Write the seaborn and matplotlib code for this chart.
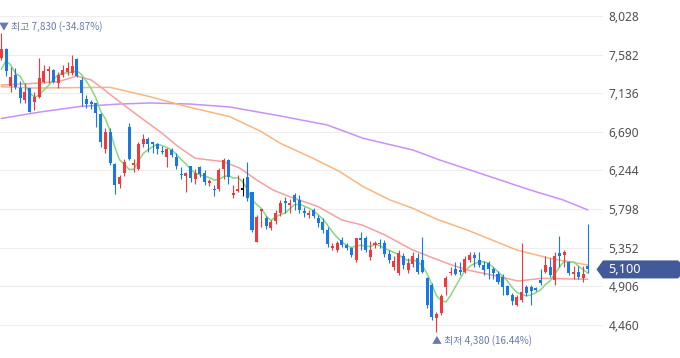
import numpy as np
import pandas as pd
import matplotlib
matplotlib.use("Agg")
import matplotlib.pyplot as plt
import matplotlib.patches as mpatches
from matplotlib.transforms import blended_transform_factory
import seaborn as sns

# ---------------- data ----------------
opens = [7543, 7647, 7223, 7346, 7200, 7057, 7193, 7038, 7096, 7262,
         7396, 7404, 7250, 7346, 7381, 7373, 7528, 7289, 7070, 7038,
         7026, 6900, 6488, 6691, 6318, 6087, 6210, 6742, 6310, 6257,
         6549, 6607, 6570, 6549, 6470, 6403, 6480, 6402, 6200, 6183,
         6290, 6145, 6280, 6210, 6102, 6025, 6026, 6260, 6365, 5960,
         6010, 6030, 6170, 5990, 5420, 5780, 5690, 5575, 5665, 5755,
         5890, 5850, 5960, 5900, 5770, 5730, 5787, 5690, 5650, 5555,
         5350, 5320, 5440, 5380, 5350, 5210, 5460, 5460, 5240, 5380,
         5410, 5400, 5280, 5125, 5060, 5250, 5090, 5160, 5230, 5210,
         4998, 4920, 4535, 4600, 4900, 5055, 5100, 5090, 5075, 5210,
         5265, 5210, 5155, 5170, 5100, 5050, 5010, 4910, 4805, 4690,
         4745, 4900, 4900, 4880, 4980, 5075, 5130, 4980, 5285, 5270,
         5190, 5050, 5070, 4998, 5140]
highs = [7830, 7660, 7439, 7431, 7277, 7254, 7200, 7153, 7543, 7462,
         7450, 7420, 7385, 7462, 7500, 7578, 7540, 7327, 7115, 7060,
         7026, 6910, 6730, 6730, 6330, 6190, 6375, 6789, 6375, 6572,
         6661, 6630, 6572, 6560, 6530, 6506, 6505, 6440, 6288, 6226,
         6300, 6260, 6300, 6245, 6150, 6070, 6270, 6385, 6380, 6075,
         6190, 6155, 6345, 5998, 5730, 5800, 5720, 5676, 5790, 5900,
         5933, 5910, 5980, 5960, 5825, 5790, 5810, 5730, 5690, 5590,
         5400, 5430, 5470, 5410, 5360, 5460, 5535, 5490, 5430, 5430,
         5450, 5440, 5320, 5250, 5320, 5290, 5230, 5300, 5290, 5480,
         5015, 4940, 4610, 4820, 5020, 5130, 5180, 5180, 5250, 5300,
         5300, 5300, 5200, 5200, 5130, 5080, 5050, 4920, 4830, 4800,
         5400, 4925, 4925, 4900, 5100, 5250, 5230, 5300, 5490, 5320,
         5200, 5140, 5140, 5140, 5630]
lows = [7520, 7335, 7150, 7185, 7023, 7026, 6915, 6942, 7080, 7254,
        7254, 7254, 7200, 7320, 7346, 7350, 7320, 6990, 6965, 6955,
        6750, 6518, 6442, 6306, 5971, 6040, 6175, 6365, 6229, 6245,
        6518, 6460, 6450, 6430, 6430, 6280, 6400, 6264, 6145, 5994,
        6110, 6085, 6170, 6070, 6060, 5950, 6010, 6140, 6090, 5922,
        6000, 5950, 5890, 5535, 5420, 5590, 5565, 5550, 5630, 5720,
        5755, 5750, 5787, 5750, 5710, 5690, 5690, 5590, 5520, 5360,
        5325, 5300, 5360, 5330, 5245, 5190, 5325, 5300, 5210, 5350,
        5350, 5240, 5170, 5095, 5040, 5100, 5060, 5130, 5050, 5055,
        4650, 4520, 4380, 4570, 4800, 5030, 5030, 5040, 5055, 5180,
        5130, 5130, 5040, 4995, 4990, 4930, 4810, 4800, 4690, 4680,
        4725, 4790, 4690, 4845, 4920, 5055, 5010, 4920, 5130, 5130,
        5040, 4990, 4990, 4950, 5060]
closes = [7647, 7396, 7327, 7211, 7077, 7153, 6922, 7096, 7308, 7393,
          7412, 7269, 7346, 7404, 7431, 7450, 7335, 7135, 7012, 7012,
          6903, 6576, 6691, 6326, 6075, 6164, 6337, 6376, 6330, 6549,
          6607, 6549, 6550, 6492, 6455, 6492, 6422, 6297, 6187, 6210,
          6160, 6210, 6200, 6107, 6125, 6015, 6250, 6365, 6170, 5980,
          6030, 6030, 5922, 5555, 5710, 5800, 5605, 5650, 5755, 5870,
          5865, 5870, 5883, 5787, 5750, 5750, 5720, 5640, 5550, 5390,
          5370, 5400, 5380, 5350, 5265, 5460, 5440, 5325, 5325, 5400,
          5390, 5280, 5210, 5200, 5290, 5150, 5170, 5250, 5075, 5075,
          4690, 4555, 4585, 4790, 5000, 5075, 5050, 5070, 5215, 5265,
          5230, 5150, 5090, 5100, 5060, 4960, 4900, 4805, 4730, 4780,
          4840, 4825, 4845, 4865, 4940, 5150, 5035, 5250, 5255, 5300,
          5060, 5070, 5010, 5045, 5100]

# 5-day average: first values (history before the window)
ma5_head = [7412, 7512, 7462, 7366]

ma20_day = [0, 7, 12, 16, 19, 21, 24.5, 29.3, 34, 37.4, 41, 47, 50.5, 54, 57.4,
            61, 67, 72, 76.3, 81.1, 84.3, 87, 90.6, 94.2, 98.5, 105.4, 109.2,
            114.3, 124]
ma20_val = [7231, 7250, 7269, 7335, 7289, 7208, 7058, 6861, 6673, 6518, 6384,
            6345, 6268, 6133, 6018, 5940, 5825, 5671, 5613, 5498, 5402, 5324,
            5247, 5171, 5093, 5016, 4966, 4997, 4986]

ma60_day = [0, 7, 23, 31.4, 39.3, 48.3, 54.7, 59, 65.9, 71.6, 76.5, 82.2,
            87, 92.1, 98.5, 109, 116, 124]
ma60_val = [7211, 7196, 7204, 7096, 6980, 6865, 6700, 6557, 6384, 6229,
            6056, 5902, 5806, 5679, 5555, 5324, 5228, 5151]

ma120_day = [0, 8.2, 16.6, 25, 31.4, 39.9, 48.3, 59, 68.9, 76.5, 87, 92.7,
             101.2, 111.8, 118.8, 124]
ma120_val = [6844, 6919, 6982, 7011, 7023, 7011, 6977, 6873, 6769, 6615, 6480,
             6364, 6211, 6018, 5902, 5787]

yticks = [4460, 4906, 5352, 5798, 6244, 6690, 7136, 7582, 8028]
high_label = "▼ 최고 7,830 (-34.87%)"
low_label = "▲ 최저 4,380 (16.44%)"
last_label = "5,100"

# ---------------- style ----------------
sns.set_theme(style="white")
plt.rcParams["font.family"] = ["Noto Sans", "Noto Sans CJK KR", "DejaVu Sans"]

W, H = 680, 358
fig = plt.figure(figsize=(W / 100, H / 100), dpi=100)
ax_right = 603
ax = fig.add_axes([0, 0, ax_right / W, 1])

YMIN, YMAX = 4076.5, 8213
ax.set_ylim(YMIN, YMAX)
ax.set_xlim(-0.275, 127.2)
px = (YMAX - YMIN) / H  # price per pixel

RED = "#ee3a3f"
BLUE = "#1a78e6"

df = pd.DataFrame({"open": opens, "high": highs, "low": lows, "close": closes})
df["day"] = np.arange(len(df))

ma5 = df["close"].rolling(5).mean().to_numpy()
ma5[:len(ma5_head)] = ma5_head
df["ma5"] = ma5

# moving averages
sns.lineplot(x=ma120_day, y=ma120_val, ax=ax, color="#c792f5", lw=1.1, zorder=2)
sns.lineplot(x=ma60_day, y=ma60_val, ax=ax, color="#f8b680", lw=1.1, zorder=2)
sns.lineplot(x=ma20_day, y=ma20_val, ax=ax, color="#f6a0a2", lw=1.1, zorder=2)
sns.lineplot(data=df, x="day", y="ma5", ax=ax, color="#86d97d", lw=1.1, zorder=2)

# candles
colors = []
for o, c in zip(df["open"], df["close"]):
    colors.append(RED if c > o else (BLUE if c < o else "#111111"))
ax.vlines(df["day"], df["low"], df["high"], colors=colors, lw=0.8, zorder=3)
body = np.abs(df["close"] - df["open"]).to_numpy()
bottom = np.minimum(df["open"], df["close"]).to_numpy()
min_h = 1.3 * px
height = np.maximum(body, min_h)
bottom = bottom - np.where(body < min_h, (min_h - body) / 2, 0)
ax.bar(df["day"], height, bottom=bottom, width=0.64, color=colors, lw=0, zorder=4)

# axes styling
for s in ax.spines.values():
    s.set_visible(False)
ax.set_xticks([])
ax.set_xlabel("")
ax.set_ylabel("")
ax.yaxis.tick_right()
ax.set_yticks(yticks)
ax.set_yticklabels([f"{v:,}" for v in yticks])
ax.tick_params(axis="y", length=0, pad=4, labelsize=8.6, labelcolor="#505050")
ax.grid(axis="y", color="#eeeeee", lw=0.8)
ax.set_axisbelow(True)

# high / low annotations
ann_kw = dict(textcoords="offset points", ha="left", va="center",
              fontsize=7.1, color="#6679b3",
              family=["Noto Sans CJK KR", "DejaVu Sans"], annotation_clip=False)
hi_i = int(np.argmax(df["high"]))
lo_i = int(np.argmin(df["low"]))
ax.annotate(high_label, xy=(hi_i, df["high"][hi_i]), xytext=(-1.5, 4.5), **ann_kw)
ax.annotate(low_label, xy=(lo_i, df["low"][lo_i]), xytext=(-3.0, -6.6), **ann_kw)

# last price tag
last = df["close"].iloc[-1]
tr = blended_transform_factory(fig.transFigure, ax.transData)
hh = 9 * px
verts = [(596.5 / W, last), (603 / W, last + hh), (678 / W, last + hh),
         (680 / W, last + hh - 2 * px), (680 / W, last - hh + 2 * px),
         (678 / W, last - hh), (603 / W, last - hh)]
poly = mpatches.Polygon(verts, closed=True, transform=tr, facecolor="#42599a",
                        edgecolor="none", clip_on=False, zorder=6)
ax.add_patch(poly)
ax.text(608 / W, last, last_label, transform=tr, color="white", fontsize=9.2,
        ha="left", va="center", zorder=7, clip_on=False)

fig.savefig("out.png", dpi=100)
